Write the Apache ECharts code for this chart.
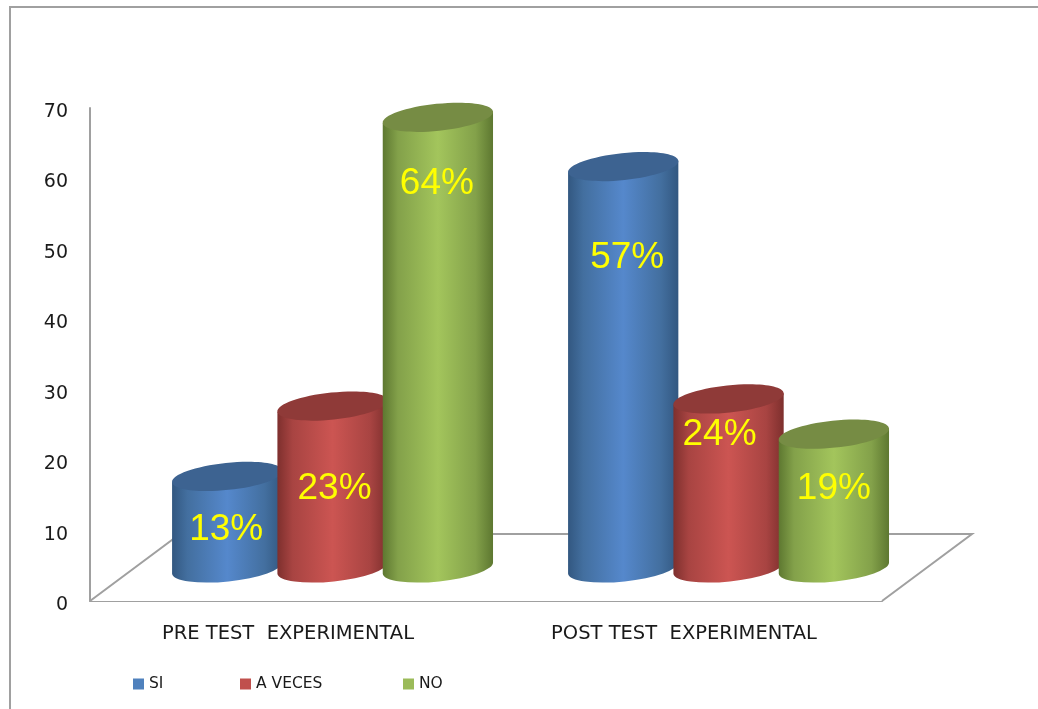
<!DOCTYPE html>
<html>
<head>
<meta charset="utf-8">
<style>html,body{margin:0;padding:0;background:#fff}#c{width:1038px;height:709px}</style>
<script src="https://cdn.jsdelivr.net/npm/echarts@6/dist/echarts.min.js"></script>
</head>
<body>
<div id="c"></div>
<script>
const categories = ['PRE TEST  EXPERIMENTAL', 'POST TEST  EXPERIMENTAL'];
const yTicks = [0, 10, 20, 30, 40, 50, 60, 70];
const siValues = [13, 57];
const aVecesValues = [23, 24];
const noValues = [64, 19];
const siLabels = ['13%', '57%'];
const aVecesLabels = ['23%', '24%'];
const noLabels = ['64%', '19%'];
const siLabelLevels = [10.1, 48.7];
const aVecesLabelLevels = [16, 23.6];
const noLabelLevels = [59.2, 16];

const GREY = '#a0a0a0';
const DEPTH_X = 0.1125, DEPTH_Y = 33, FLOOR_X = 90, FLOOR_Y = 67;
const STEP = 0.266, RX = 0.14, RY = 13.5, TILT = 6 * Math.PI / 180;

function cylinder(slot, values, labels, levels, nudges, dark, mid, light, cap) {
  return function (params, api) {
    const i = params.dataIndex;
    const band = api.size([1, 0])[0];
    const base = api.coord([i, 0]);
    const top = api.coord([i, values[i]]);
    const cx = base[0] + band * (DEPTH_X + slot * STEP);
    const rx = band * RX;
    const yb = base[1] - DEPTH_Y, yt = top[1] - DEPTH_Y;
    const ex = rx * Math.cos(TILT), ey = rx * Math.sin(TILT);
    const d = 'M' + (cx - ex) + ' ' + (yt + ey) +
      ' L' + (cx - ex) + ' ' + (yb + ey) +
      ' A' + rx + ' ' + RY + ' -6 0 0 ' + (cx + ex) + ' ' + (yb - ey) +
      ' L' + (cx + ex) + ' ' + (yt - ey) + ' Z';
    const fill = new echarts.graphic.LinearGradient(0, 0, 1, 0, [
      { offset: 0, color: dark }, { offset: 0.14, color: mid },
      { offset: 0.5, color: light }, { offset: 0.84, color: mid },
      { offset: 1, color: dark }
    ]);
    return {
      type: 'group',
      children: [
        { type: 'path', shape: { pathData: d }, style: { fill: fill } },
        { type: 'ellipse', x: cx, y: yt, rotation: TILT,
          shape: { cx: 0, cy: 0, rx: rx, ry: RY }, style: { fill: cap } },
        { type: 'text', x: cx + nudges[i], y: api.coord([i, levels[i]])[1],
          style: { text: labels[i], fill: '#ffff00', align: 'center', verticalAlign: 'middle',
                   font: '37px "Liberation Sans"' } }
      ]
    };
  };
}

function cylSeries(name, color, render) {
  return {
    name: name, type: 'custom', xAxisIndex: 0, yAxisIndex: 0,
    itemStyle: { color: color }, encode: { x: 0, y: 1 }, renderItem: render, z: 3
  };
}

const floorRender = function (params, api) {
  const cs = params.coordSys;
  const L = cs.x, R = cs.x + cs.width, Y = cs.y + cs.height;
  return {
    type: 'polyline',
    shape: { points: [[L, Y], [L + FLOOR_X, Y - FLOOR_Y], [R + FLOOR_X, Y - FLOOR_Y], [R, Y]] },
    style: { stroke: GREY, lineWidth: 2, fill: '#fff' }
  };
};

const si = cylSeries('SI', '#4f81bd', cylinder(-1, siValues, siLabels, siLabelLevels, [-1, 4], '#325780', '#436f9f', '#5588cc', '#3d6391'));
si.data = siValues.map((v, i) => [i, v]);
const av = cylSeries('A VECES', '#c0504d', cylinder(0, aVecesValues, aVecesLabels, aVecesLabelLevels, [2, -9], '#7d2f2d', '#a84442', '#cc5552', '#8f3a38'));
av.data = aVecesValues.map((v, i) => [i, v]);
const no = cylSeries('NO', '#9bbb59', cylinder(1, noValues, noLabels, noLabelLevels, [-1, 0], '#5d7730', '#83a14a', '#a3c55c', '#768c44'));
no.data = noValues.map((v, i) => [i, v]);

const legendText = { fontFamily: '"DejaVu Sans"', fontSize: 15.5, color: '#1a1a1a' };
function lg(name, left) {
  return { data: [name], left: left, top: 676, itemWidth: 11, itemHeight: 11, padding: 0,
           icon: 'rect', selectedMode: false, textStyle: legendText };
}

const chart = echarts.init(document.getElementById('c'), null, { renderer: 'canvas' });
chart.setOption({
  animation: false,
  backgroundColor: '#fff',
  grid: { left: 90, right: 156, top: 108, height: 493 },
  xAxis: {
    type: 'category', data: categories,
    axisTick: { show: false },
    axisLine: { lineStyle: { color: GREY, width: 2 } },
    axisLabel: { fontFamily: '"DejaVu Sans"', fontSize: 19.5, color: '#1a1a1a', margin: 23 }
  },
  yAxis: {
    type: 'value', min: yTicks[0], max: yTicks[yTicks.length - 1], interval: 10,
    splitLine: { show: false }, axisTick: { show: false },
    axisLine: { show: true, lineStyle: { color: GREY, width: 2 } },
    axisLabel: { fontFamily: '"DejaVu Sans"', fontSize: 19, color: '#1a1a1a', margin: 22,
                 verticalAlign: 'top', lineHeight: 8 }
  },
  legend: [lg('SI', 133), lg('A VECES', 240), lg('NO', 403)],
  graphic: [
    { type: 'polyline', silent: true, shape: { points: [[1038, 7], [10, 7], [10, 709]] },
      style: { stroke: GREY, lineWidth: 2, fill: null } }
  ],
  series: [
    { type: 'custom', renderItem: floorRender, data: [[0, 0]], encode: { x: 0, y: 1 }, silent: true, z: 1 },
    si, av, no
  ]
});
</script>
</body>
</html>
